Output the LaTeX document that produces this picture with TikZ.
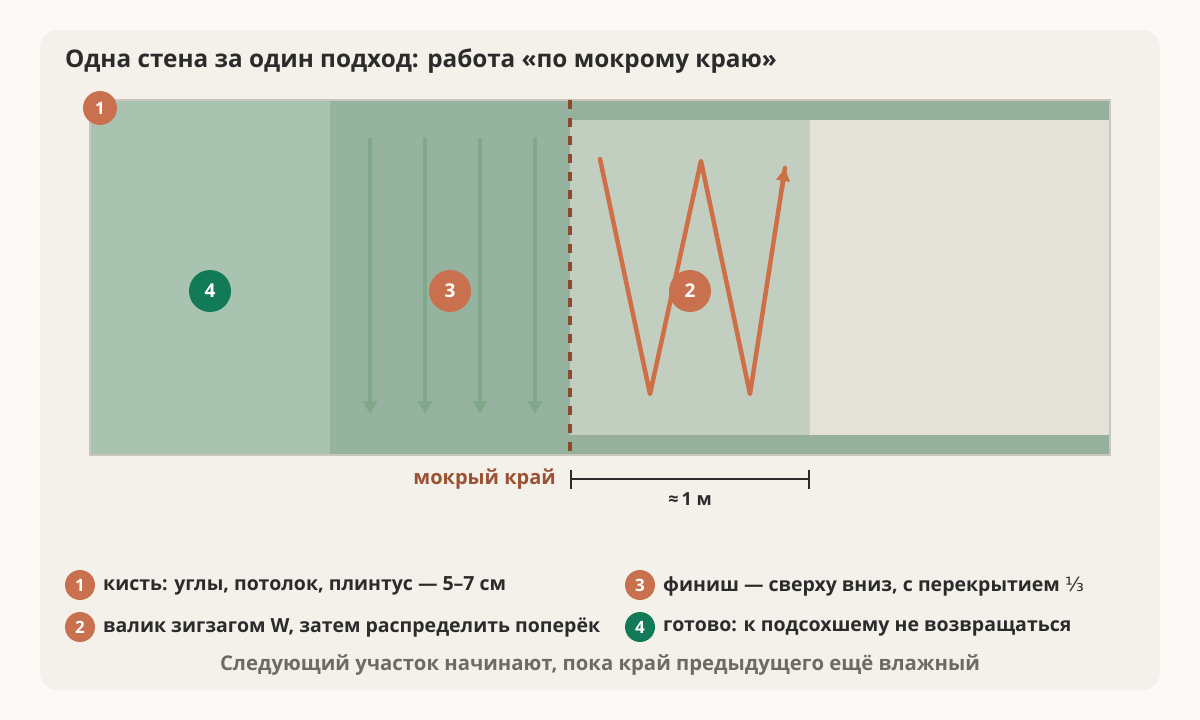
\documentclass[tikz,border=0pt]{standalone}
\usepackage{fontspec}
\setmainfont{Open Sans}
\newfontfamily\symfont{DejaVu Sans}
\usetikzlibrary{arrows.meta,calc}
\definecolor{bgout}{HTML}{FBFAF7}
\definecolor{card}{HTML}{F4F1EB}
\definecolor{zfour}{HTML}{A8C4B0}
\definecolor{zthree}{HTML}{95B39E}
\definecolor{band}{HTML}{97B09C}
\definecolor{ztwo}{HTML}{C1CEC0}
\definecolor{zone}{HTML}{E4E1D9}
\definecolor{wallline}{HTML}{C9C7BD}
\definecolor{wetc}{HTML}{8B4A2B}
\definecolor{arrc}{HTML}{82A88B}
\definecolor{wc}{HTML}{CF6F48}
\definecolor{orb}{HTML}{C9714F}
\definecolor{grb}{HTML}{137A58}
\definecolor{txt}{HTML}{2B2B2B}
\definecolor{lblc}{HTML}{9A5232}
\definecolor{foot}{HTML}{6F6A64}
\begin{document}
\begin{tikzpicture}[x=1pt,y=-1pt,
  badge/.style={circle,fill=orb,text=white,inner sep=0pt,minimum size=42pt,font=\bfseries\fontsize{19}{19}\selectfont},
  smallbadge/.style={badge,minimum size=30pt,font=\bfseries\fontsize{17}{17}\selectfont},
  legtext/.style={anchor=west,inner sep=0pt,text=txt,font=\fontsize{19.5}{23}\selectfont\bfseries},
  strokearrow/.style={arrc,line width=3.5pt,-{Triangle[width=14pt,length=13pt]}},
  wpath/.style={wc,line width=4.5pt,line cap=round,line join=round}]
\useasboundingbox (0,0) rectangle (1200,720);
\fill[bgout] (0,0) rectangle (1200,720);
\fill[card,rounded corners=18pt] (40,30) rectangle (1160,690);
% title
\node[anchor=west,inner sep=0pt,text=txt,font=\bfseries\fontsize{24.3}{29}\selectfont] (title) at (65,61) {Одна стена за один подход: работа «по мокрому краю»};
% wall zones
\fill[zfour] (90,100) rectangle (330,455);
\fill[zthree] (330,100) rectangle (570,455);
\fill[band] (570,100) rectangle (1110,455);
\fill[ztwo] (570,120) rectangle (810,435);
\fill[zone] (810,120) rectangle (1110,435);
\draw[wallline,line width=1.2pt] (90,100) rectangle (1110,455);
% finishing strokes
\foreach \i/\x in {1/370,2/425,3/480,4/535}{
  \coordinate (s\i) at (\x,138);
  \coordinate (e\i) at (\x,414);
  \draw[strokearrow] (s\i) -- (e\i);
}
% W path
\coordinate (w1) at (600,159);
\coordinate (w2) at (650,394);
\coordinate (w3) at (701,161);
\coordinate (w4) at (750,394);
\coordinate (w5) at (785,168);
\draw[wpath] (w1) -- (w2) -- (w3) -- (w4) -- (w5);
\coordinate (w45) at ($(w4)!0.9!(w5)$);
\draw[wc,line width=4.5pt,-{Triangle[width=13pt,length=13pt]}] (w45) -- (w5);
% wet edge
\coordinate (wt) at (570,100);
\coordinate (wb) at (570,455);
\draw[wetc,line width=3.5pt,dash pattern=on 9pt off 9pt] (wt) -- (wb);
% badges
\node[badge,minimum size=34pt,font=\bfseries\fontsize{17}{17}\selectfont] (b1) at (100,108) {1};
\node[badge,fill=grb] (b4) at (210,291) {4};
\node[badge] (b3) at (450,291) {3};
\node[badge] (b2) at (690,291) {2};
% dimension
\coordinate (d1) at (570,479);
\coordinate (d2) at (810,479);
\draw[txt,line width=1.6pt,{Bar[width=19pt]}-{Bar[width=19pt]}] (d1) -- (d2);
\node[anchor=east,inner sep=0pt,text=lblc,font=\bfseries\fontsize{20}{24}\selectfont] (wet) at (556,479) {мокрый край};
\node[inner sep=0pt,text=txt,font=\bfseries\fontsize{18}{22}\selectfont] (dim) at (690,499) {≈\,1 м};
% legend
\node[smallbadge] (l1) at (80,585) {1};
\node[legtext] (t1) at (103,586) {кисть: углы, потолок, плинтус — 5–7 см};
\node[smallbadge] (l2) at (80,627) {2};
\node[legtext] (t2) at (103,628) {валик зигзагом W, затем распределить поперёк};
\node[smallbadge] (l3) at (640,585) {3};
\node[legtext] (t3) at (663,586) {финиш — сверху вниз, с перекрытием {\symfont\mdseries ⅓}};
\node[smallbadge,fill=grb] (l4) at (640,627) {4};
\node[legtext] (t4) at (663,628) {готово: к подсохшему не возвращаться};
% footer
\node[inner sep=0pt,text=foot,font=\bfseries\fontsize{20.3}{24}\selectfont] (ft) at (600,665) {Следующий участок начинают, пока край предыдущего ещё влажный};
\end{tikzpicture}
\end{document}
